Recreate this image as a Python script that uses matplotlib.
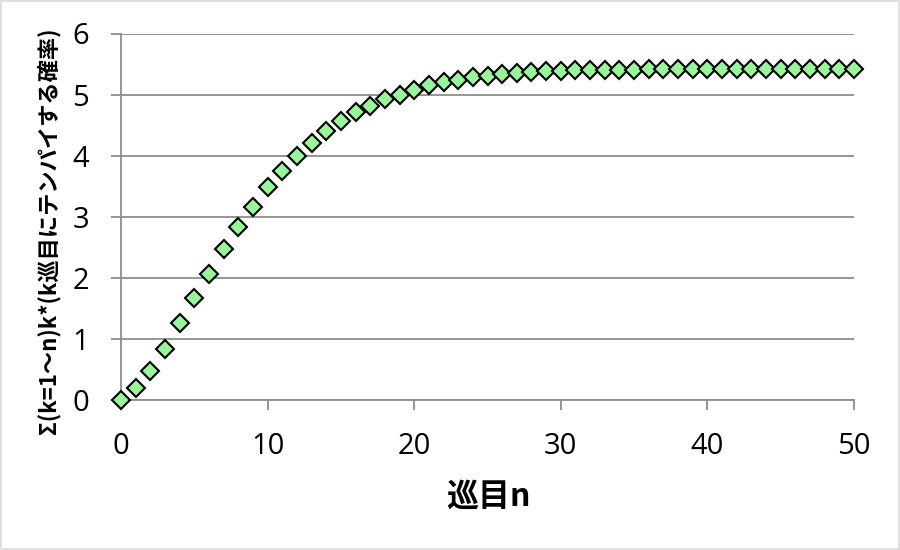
import matplotlib
matplotlib.use("Agg")
import matplotlib.pyplot as plt
from matplotlib.patches import Rectangle

n_values = list(range(0, 51))
expected = [0.00, 0.19, 0.48, 0.835, 1.255, 1.665, 2.07, 2.47, 2.83, 3.165,
            3.48, 3.75, 4.00, 4.21, 4.41, 4.57, 4.72, 4.82, 4.92, 5.00,
            5.08, 5.15, 5.20, 5.245, 5.28, 5.31, 5.335, 5.355, 5.37, 5.38,
            5.39, 5.395, 5.40, 5.405, 5.41, 5.41, 5.415, 5.415, 5.42, 5.42,
            5.42, 5.42, 5.42, 5.42, 5.42, 5.42, 5.42, 5.42, 5.42, 5.42, 5.42]
x_ticks = [0, 10, 20, 30, 40, 50]
y_ticks = [0, 1, 2, 3, 4, 5, 6]
x_label = "巡目n"
y_label = "Σ(k=1～n)k*(k巡目にテンパイする確率)"

plt.rcParams['font.family'] = ['Noto Sans CJK JP', 'DejaVu Sans']

fig = plt.figure(figsize=(9, 5.5), dpi=100)
ax = fig.add_axes([121/900, 1 - 400/550, (854 - 121)/900, (400 - 33.5)/550])

grid_c = '#8c8c8c'
ax.plot(n_values, expected, linestyle='none', marker='D', markersize=9.3,
        markerfacecolor='#99f599', markeredgecolor='black', markeredgewidth=1.5,
        zorder=3, clip_on=False)

ax.set_xlim(0, 50)
ax.set_ylim(0, 6)
ax.set_xticks(x_ticks)
ax.set_yticks(y_ticks)
ax.grid(axis='y', color=grid_c, linewidth=1.3)
ax.set_axisbelow(True)
for s in ['top', 'right']:
    ax.spines[s].set_visible(False)
for s in ['left', 'bottom']:
    ax.spines[s].set_color(grid_c)
    ax.spines[s].set_linewidth(1.3)
ax.tick_params(axis='both', colors=grid_c, length=7.5, width=1.3, direction='out',
               labelcolor='black', labelsize=21)
ax.tick_params(axis='x', pad=15.3)
ax.tick_params(axis='y', pad=15.5)
for lbl in ax.get_xticklabels() + ax.get_yticklabels():
    lbl.set_family(['Open Sans', 'DejaVu Sans'])

ax.set_xlabel(x_label, fontsize=23, fontweight='bold', va='center', ha='center')
ax.xaxis.set_label_coords(0.5007, -0.2647)
ax.set_ylabel(y_label, fontsize=16, fontweight='bold', va='center', ha='center')
ax.yaxis.set_label_coords(-0.099, 0.461)

fig.patches.append(Rectangle((0.001, 0.002), 0.998, 0.996, transform=fig.transFigure,
                             fill=False, edgecolor='#d9d9d9', linewidth=1.2))

fig.savefig("out.png", dpi=100)
